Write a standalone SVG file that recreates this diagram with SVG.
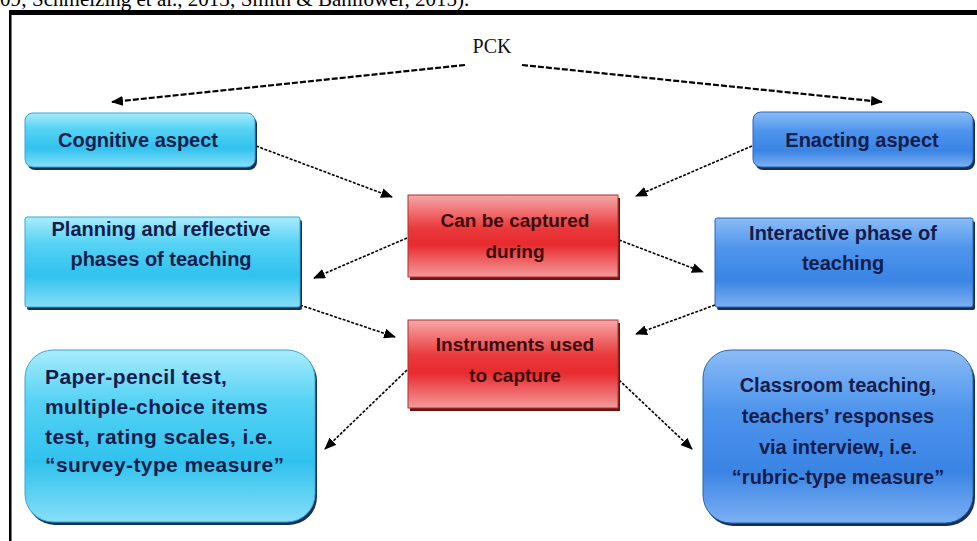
<svg xmlns="http://www.w3.org/2000/svg" width="977" height="541" viewBox="0 0 977 541">
<defs>
<linearGradient id="gCyan" x1="0" y1="0" x2="0" y2="1">
<stop offset="0" stop-color="#a8ecfc"/>
<stop offset="0.3" stop-color="#55d2f4"/>
<stop offset="0.65" stop-color="#30c2ee"/>
<stop offset="1" stop-color="#86def8"/>
</linearGradient>
<linearGradient id="gBlue" x1="0" y1="0" x2="0" y2="1">
<stop offset="0" stop-color="#8cbcf6"/>
<stop offset="0.35" stop-color="#4d94ec"/>
<stop offset="0.7" stop-color="#3a84e4"/>
<stop offset="1" stop-color="#7cb0f2"/>
</linearGradient>
<linearGradient id="gRed" x1="0" y1="0" x2="0" y2="1">
<stop offset="0" stop-color="#f6a8a8"/>
<stop offset="0.4" stop-color="#ea3a3c"/>
<stop offset="0.6" stop-color="#e82a2e"/>
<stop offset="1" stop-color="#f49a9a"/>
</linearGradient>
<marker id="ah" viewBox="0 0 12 10" refX="11" refY="5" markerWidth="12" markerHeight="10" markerUnits="userSpaceOnUse" orient="auto">
<path d="M0,0 L12,5 L0,10 Z" fill="#000"/>
</marker>
</defs>
<style>
.frame{fill:#000}
.shB{fill:#14305a}
.shR{fill:#6a1414}
.cy{fill:url(#gCyan);stroke:#3aa6d0;stroke-width:1}
.bl{fill:url(#gBlue);stroke:#2a64b8;stroke-width:1}
.rd{fill:url(#gRed);stroke:#b03030;stroke-width:1}
.tb{font-family:"Liberation Sans",Arial,sans-serif;font-weight:bold;font-size:20px;fill:#141c4c;text-anchor:middle}
.tr{font-family:"Liberation Sans",Arial,sans-serif;font-weight:bold;font-size:19px;fill:#3a0a0a;text-anchor:middle}
.tl{font-family:"Liberation Sans",Arial,sans-serif;font-weight:bold;font-size:21px;letter-spacing:0.4px;fill:#141c4c}
.con{fill:none;stroke:#000;stroke-width:1.6;stroke-dasharray:3 1.5;marker-end:url(#ah)}
.conT{fill:none;stroke:#000;stroke-width:2.2;stroke-dasharray:6 2;marker-end:url(#ah)}
</style>
<rect width="977" height="541" fill="#fff"/>
<text x="0" y="6" font-family="Liberation Serif,'Times New Roman',serif" font-size="21" fill="#000">09; Schmelzing et al., 2013; Smith &amp; Banilower, 2015).</text>
<rect class="frame" x="9" y="10" width="968" height="5"/>
<rect class="frame" x="9" y="10" width="2.5" height="531"/>

<g id="pck">
<text x="492" y="53" font-family="Liberation Serif,'Times New Roman',serif" font-size="20" fill="#111" text-anchor="middle">PCK</text>
</g>

<g id="connectors">
<path class="conT" d="M465,65 L112,102"/>
<path class="conT" d="M522,65 L882,102"/>
<path class="con" d="M256,146 L392,197"/>
<path class="con" d="M752,146 L636,196"/>
<path class="con" d="M407,238 L314,278"/>
<path class="con" d="M619,240 L703,272"/>
<path class="con" d="M300,305 L395,337"/>
<path class="con" d="M715,305 L636,334"/>
<path class="con" d="M407,370 L325,449"/>
<path class="con" d="M619,380 L692,449"/>
</g>

<g id="cognitive">
<rect class="shB" x="27" y="116" width="230" height="54" rx="8"/>
<rect class="cy" x="25" y="113" width="230" height="54" rx="8"/>
<text class="tb" x="138" y="147">Cognitive aspect</text>
</g>

<g id="enacting">
<rect class="shB" x="755" y="115" width="220" height="55" rx="8"/>
<rect class="bl" x="753" y="112" width="220" height="55" rx="8"/>
<text class="tb" x="862" y="147">Enacting aspect</text>
</g>

<g id="canbe">
<rect class="shR" x="410" y="198" width="210" height="82"/>
<rect class="rd" x="408" y="195" width="210" height="82"/>
<text class="tr" x="515" y="227">Can be captured</text>
<text class="tr" x="515" y="258">during</text>
</g>

<g id="planning">
<rect class="shB" x="27" y="220" width="275" height="90" rx="2"/>
<rect class="cy" x="25" y="217" width="275" height="90" rx="2"/>
<text class="tb" x="161" y="236">Planning and reflective</text>
<text class="tb" x="161" y="266">phases of teaching</text>
</g>

<g id="interactive">
<rect class="shB" x="717" y="221" width="258" height="89" rx="2"/>
<rect class="bl" x="715" y="218" width="258" height="89" rx="2"/>
<text class="tb" x="843" y="240">Interactive phase of</text>
<text class="tb" x="843" y="270">teaching</text>
</g>

<g id="instruments">
<rect class="shR" x="410" y="323" width="210" height="88"/>
<rect class="rd" x="408" y="320" width="210" height="88"/>
<text class="tr" x="515" y="351">Instruments used</text>
<text class="tr" x="515" y="382">to capture</text>
</g>

<g id="paper">
<rect class="shB" x="27" y="353" width="290" height="172" rx="28"/>
<rect class="cy" x="25" y="350" width="290" height="172" rx="28"/>
<text class="tl" x="45" y="384">Paper-pencil test,</text>
<text class="tl" x="45" y="414">multiple-choice items</text>
<text class="tl" x="45" y="444">test, rating scales, i.e.</text>
<text class="tl" x="45" y="472">“survey-type measure”</text>
</g>

<g id="classroom">
<rect class="shB" x="705" y="353" width="270" height="173" rx="28"/>
<rect class="bl" x="703" y="350" width="270" height="173" rx="28"/>
<text class="tb" x="838" y="392">Classroom teaching,</text>
<text class="tb" x="838" y="423">teachers’ responses</text>
<text class="tb" x="838" y="454">via interview, i.e.</text>
<text class="tb" x="838" y="484">“rubric-type measure”</text>
</g>
</svg>
